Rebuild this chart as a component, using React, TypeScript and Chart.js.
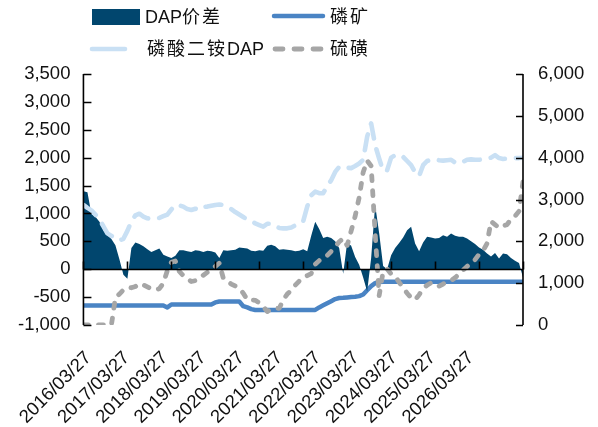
import React, { useEffect, useRef } from 'react';
import { Chart, registerables } from 'chart.js';

Chart.register(...registerables);

// X-axis date labels (yearly)
const yearLabels = [
  '2016/03/27', '2017/03/27', '2018/03/27', '2019/03/27', '2020/03/27', '2021/03/27',
  '2022/03/27', '2023/03/27', '2024/03/27', '2025/03/27', '2026/03/27',
];

// DAP价差 (left axis)
const dapSpread = [
  1400, 1380, 990, 940, 850, 700, 610, 540, 430, 180,
  -100, -170, 380, 480, 450, 410, 360, 310, 340, 370,
  260, 230, 200, 240, 340, 340, 320, 310, 340, 330,
  310, 330, 320, 300, 200, 340, 330, 340, 350, 390,
  380, 370, 330, 320, 340, 330, 420, 440, 410, 350,
  360, 350, 340, 320, 330, 360, 320, 600, 850, 720,
  560, 580, 560, 500, 380, -80, 480, 420, 220, 80,
  -150, -400, 200, 1150, 650, 60, 0, 250, 380, 470,
  570, 700, 760, 460, 320, 480, 580, 570, 550, 560,
  610, 580, 640, 600, 580, 580, 550, 500, 450, 390,
  350, 280, 230, 290, 190, 280, 270, 200, 150, 110, -150,
];

// 磷矿 (right axis)
const phosphateRock = [
  465, 465, 465, 465, 465, 465, 465, 465, 465, 465,
  465, 465, 465, 465, 465, 465, 465, 465, 465, 465,
  465, 420, 490, 490, 490, 490, 490, 490, 490, 490,
  490, 490, 490, 540, 560, 560, 560, 560, 560, 560,
  450, 420, 380, 360, 360, 360, 360, 360, 360, 360,
  360, 360, 360, 360, 360, 360, 360, 360, 360, 420,
  470, 520, 570, 620, 645, 650, 660, 670, 675, 690,
  730, 830, 930, 1000, 1030, 1035, 1035, 1035, 1035, 1035,
  1035, 1035, 1035, 1035, 1035, 1035, 1035, 1035, 1035, 1035,
  1035, 1035, 1035, 1035, 1035, 1035, 1035, 1035, 1035, 1035,
  1035, 1035, 1035, 1035, 1035, 1035, 1035, 1035, 1035, 1035, 1035,
];

// 磷酸二铵DAP (right axis)
const dapPrice = [
  2870, 2800, 2740, 2640, 2520, 2360, 2190, 2130, 2090, 2020,
  2060, 2250, 2480, 2620, 2660, 2590, 2550, 2540, 2550, 2560,
  2600, 2640, 2760, 2870, 2860, 2830, 2770, 2750, 2780, 2750,
  2820, 2830, 2850, 2870, 2880, 2870, 2830, 2770, 2700, 2640,
  2580, 2520, 2480, 2430, 2390, 2350, 2420, 2420, 2360, 2320,
  2310, 2310, 2330, 2380, 2450, 2480, 2830, 3100, 3190, 3150,
  3150, 3320, 3460, 3660, 3780, 3790, 3760, 3750, 3800, 3860,
  3950, 4500, 4820, 4300, 3980, 3680, 3700, 4000, 4060, 4010,
  4020, 3920, 3820, 3650, 3560, 3820, 3920, 3950, 3960, 3940,
  3930, 3940, 3950, 3880, 3860, 3900, 3950, 3960, 3950, 3950,
  3960, 3980, 4000, 4060, 3990, 3970, 3980, 3980, 3990, 3990, 4000,
];

// 硫磺 (right axis)
const sulfur = [
  0, 0, 0, 0, 0, 0, 0, 0, 650, 740,
  840, 900, 890, 920, 990, 960, 910, 860, 840, 870,
  1000, 1300, 1500, 1530, 1280, 1180, 1110, 1040, 1060, 1110,
  1190, 1260, 1330, 1400, 1480, 1120, 1040, 980, 930, 870,
  760, 600, 600, 590, 530, 440, 320, 380, 400, 400,
  600, 740, 830, 950, 1050, 1120, 1180, 1230, 1450, 1540,
  1600, 1660, 1760, 1870, 1990, 2070, 1900, 2250, 2600, 3050,
  3650, 3930, 3800, 2200, 700, 1280, 1340, 1220, 1170, 1020,
  900, 760, 650, 600, 720, 880, 950, 1010, 1000, 930,
  980, 1030, 1060, 1130, 1220, 1310, 1400, 1480, 1560, 1690,
  1770, 1950, 2480, 2400, 2320, 2370, 2400, 2530, 2600, 2720, 3420,
];

const NAVY = '#01466E';
const BLUE = '#4A84C4';
const LIGHT = '#C9E0F4';
const GRAY = '#A6A6A6';
const FONT = "'Liberation Sans', Arial, 'Noto Sans CJK SC', sans-serif";
const TEXT = '#111111';

// Draws axis lines and inward tick marks on top of the data
const axisPlugin = {
  id: 'axisLinesAndTicks',
  afterDatasetsDraw(chart: any) {
    const { ctx, chartArea, scales } = chart;
    const yL = scales.y;
    const yR = scales.y1;
    const xs = scales.x;
    const zeroY = Math.round(yL.getPixelForValue(0)) + 0.5;
    ctx.save();
    ctx.strokeStyle = '#000';
    ctx.lineCap = 'butt';
    ctx.lineWidth = 1.6;
    ctx.beginPath();
    ctx.moveTo(chartArea.left, chartArea.top);
    ctx.lineTo(chartArea.left, chartArea.bottom);
    ctx.moveTo(chartArea.right, chartArea.top);
    ctx.lineTo(chartArea.right, chartArea.bottom);
    ctx.moveTo(chartArea.left, zeroY);
    ctx.lineTo(chartArea.right, zeroY);
    ctx.stroke();
    ctx.lineWidth = 1.6;
    ctx.beginPath();
    for (const t of yL.ticks) {
      const p = Math.round(yL.getPixelForValue(t.value)) + 0.5;
      ctx.moveTo(chartArea.left, p);
      ctx.lineTo(chartArea.left + 8, p);
    }
    for (const t of yR.ticks) {
      const p = Math.round(yR.getPixelForValue(t.value)) + 0.5;
      ctx.moveTo(chartArea.right, p);
      ctx.lineTo(chartArea.right - 7, p);
    }
    for (const t of xs.ticks) {
      const p = Math.round(xs.getPixelForValue(t.value)) + 0.5;
      ctx.moveTo(p, zeroY);
      ctx.lineTo(p, zeroY - 8);
    }
    ctx.stroke();
    ctx.restore();
  },
};

export default function App() {
  const ref = useRef<HTMLCanvasElement>(null);

  useEffect(() => {
    const idx = dapSpread.map((_, i) => i);
    const lastIdx = idx.length - 1;
    const tickFont = { family: FONT, size: 18.5 };
    const chart = new Chart(ref.current as HTMLCanvasElement, {
      type: 'line',
      data: {
        labels: idx,
        datasets: [
          {
            label: '硫磺', data: sulfur, xAxisID: 'x', yAxisID: 'y1',
            borderColor: GRAY, borderWidth: 4.8, borderDash: [5, 10],
            borderCapStyle: 'round', borderJoinStyle: 'round',
            pointRadius: 0, fill: false, tension: 0, order: 0,
          },
          {
            label: '磷酸二铵DAP', data: dapPrice, xAxisID: 'x', yAxisID: 'y1',
            borderColor: LIGHT, borderWidth: 4.6, borderDash: [16, 11],
            borderCapStyle: 'round', borderJoinStyle: 'round',
            pointRadius: 0, fill: false, tension: 0, order: 1,
          },
          {
            label: 'DAP价差', data: dapSpread, xAxisID: 'x', yAxisID: 'y',
            borderWidth: 0, borderColor: NAVY, backgroundColor: NAVY,
            pointRadius: 0, fill: 'origin', tension: 0, order: 2,
          },
          {
            label: '磷矿', data: phosphateRock, xAxisID: 'x', yAxisID: 'y1',
            borderColor: BLUE, borderWidth: 4.5, borderJoinStyle: 'round',
            pointRadius: 0, fill: false, tension: 0, order: 3,
          },
        ],
      },
      plugins: [axisPlugin],
      options: {
        responsive: false,
        animation: false,
        devicePixelRatio: 1,
        locale: 'en-US',
        layout: { padding: { top: 74, left: 0, right: 0, bottom: 0 } },
        plugins: { legend: { display: false }, tooltip: { enabled: false } },
        scales: {
          x: {
            type: 'linear',
            position: { y: 0 } as any,
            min: 0,
            max: lastIdx,
            afterBuildTicks: (s: any) => {
              const t: any[] = [];
              for (let k = 0; k <= 10; k++) t.push({ value: (lastIdx / 10) * k });
              s.ticks = t;
            },
            ticks: { display: false },
            grid: { display: false, drawTicks: false },
            border: { display: false },
          },
          xl: {
            type: 'linear',
            position: 'bottom',
            min: -0.13,
            max: 11.358,
            afterBuildTicks: (s: any) => {
              s.ticks = yearLabels.map((_, k) => ({ value: k }));
            },
            afterFit: (s: any) => { s.height = 102; },
            ticks: {
              minRotation: 45, maxRotation: 45, padding: 22, autoSkip: false,
              font: tickFont, color: TEXT,
              callback: (_v: any, i: number) => yearLabels[i] ?? '',
            },
            grid: { display: false, drawTicks: false },
            border: { display: false },
          },
          y: {
            type: 'linear',
            position: 'left',
            min: -1000,
            max: 3500,
            afterFit: (s: any) => { s.width = 83; },
            ticks: { stepSize: 500, padding: 13, font: tickFont, color: TEXT },
            grid: { display: false, drawTicks: false },
            border: { display: false },
          },
          y1: {
            type: 'linear',
            position: 'right',
            min: 0,
            max: 6000,
            afterFit: (s: any) => { s.width = 75; },
            ticks: { stepSize: 1000, padding: 15, font: tickFont, color: TEXT },
            grid: { display: false, drawTicks: false },
            border: { display: false },
          },
        },
      } as any,
    });
    return () => chart.destroy();
  }, []);

  const textStyle = (left: number, center: number): React.CSSProperties => ({
    position: 'absolute', left, top: center - 12, height: 24, lineHeight: '24px',
    fontFamily: FONT, fontSize: 18, color: TEXT, whiteSpace: 'nowrap',
  });
  const cjk: React.CSSProperties = { letterSpacing: '2px' };

  return (
    <div style={{ position: 'absolute', left: 0, top: 0, width: 598, height: 427, background: '#fff' }}>
      <canvas ref={ref} width={598} height={427} style={{ display: 'block', width: 598, height: 427 }} />
      <svg width={598} height={70} style={{ position: 'absolute', left: 0, top: 0 }}>
        <rect x={92} y={9} width={48} height={16} fill={NAVY} />
        <line x1={274} y1={16} x2={323} y2={16} stroke={BLUE} strokeWidth={4.5} strokeLinecap="round" />
        <line x1={92} y1={49} x2={125} y2={49} stroke={LIGHT} strokeWidth={4.6} strokeLinecap="round" />
        <line x1={275} y1={49} x2={322} y2={49} stroke={GRAY} strokeWidth={4.8} strokeLinecap="round" strokeDasharray="8 11" />
      </svg>
      <div style={textStyle(145, 17)}>DAP<span style={cjk}>价差</span></div>
      <div style={textStyle(330, 17)}><span style={cjk}>磷矿</span></div>
      <div style={textStyle(147, 49)}><span style={cjk}>磷酸二铵</span>DAP</div>
      <div style={textStyle(330, 49)}><span style={cjk}>硫磺</span></div>
    </div>
  );
}
